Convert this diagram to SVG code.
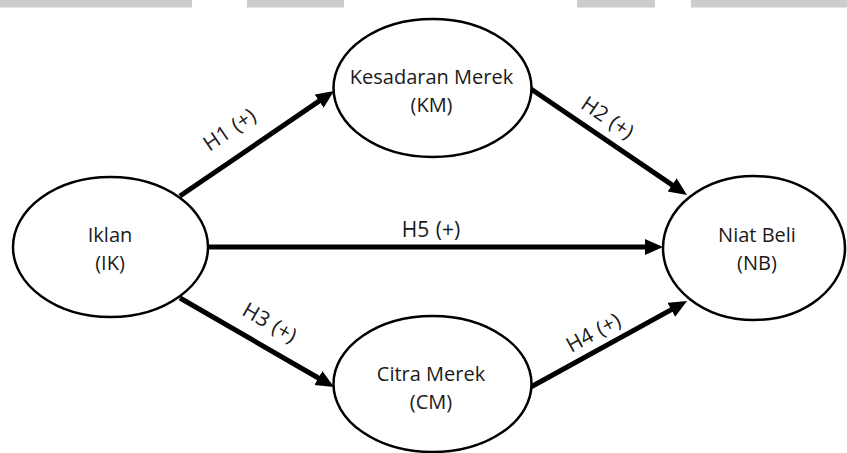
<svg xmlns="http://www.w3.org/2000/svg" width="847" height="453" viewBox="0 0 847 453">
  <style>
    .node ellipse { fill: #ffffff; stroke: #000000; stroke-width: 2.5; }
    .node text { font-family: "Open Sans", "Liberation Sans", sans-serif; font-size: 20px; fill: #1a1a1a; text-anchor: middle; }
    .edge { stroke: #000000; stroke-width: 5; fill: none; marker-end: url(#head); }
    .lbl { font-family: "Open Sans", "Liberation Sans", sans-serif; font-size: 21px; word-spacing: 1px; fill: #1a1a1a; text-anchor: middle; dominant-baseline: central; }
    .bar { fill: #cccccc; }
  </style>
  <defs>
    <marker id="head" markerUnits="userSpaceOnUse" markerWidth="20" markerHeight="18" refX="11" refY="8" orient="auto">
      <path d="M0,0 L18,8 L0,16 z" fill="#000000"/>
    </marker>
  </defs>

  <rect width="847" height="453" fill="#ffffff"/>

  <!-- strip along the top edge -->
  <g id="top-strip">
    <rect class="bar" x="0" y="0" width="192" height="7.5"/>
    <rect class="bar" x="247" y="0" width="97" height="7.5"/>
    <rect class="bar" x="577" y="0" width="78" height="7.5"/>
    <rect class="bar" x="691" y="0" width="156" height="7.5"/>
  </g>

  <!-- connectors -->
  <g id="connectors">
    <line class="edge" x1="180" y1="196" x2="328.2" y2="94.9"/>
    <line class="edge" x1="531" y1="89" x2="681.2" y2="191.1"/>
    <line class="edge" x1="180" y1="298" x2="327.9" y2="383.5"/>
    <line class="edge" x1="529" y1="388" x2="680.9" y2="304.4"/>
    <line class="edge" x1="208" y1="247" x2="656" y2="247"/>
    <text class="lbl" transform="translate(229,129) rotate(-34.3)">H1 (+)</text>
    <text class="lbl" transform="translate(608,117) rotate(34.2)">H2 (+)</text>
    <text class="lbl" transform="translate(270,322) rotate(30)">H3 (+)</text>
    <text class="lbl" transform="translate(593,332) rotate(-28.8)">H4 (+)</text>
    <text class="lbl" x="431" y="229">H5 (+)</text>
  </g>

  <g id="node-ik" class="node">
    <ellipse cx="110.5" cy="247" rx="97.5" ry="70"/>
    <text x="110" y="242">Iklan</text>
    <text x="110" y="270">(IK)</text>
  </g>

  <g id="node-km" class="node">
    <ellipse cx="432.5" cy="88" rx="99" ry="69"/>
    <text x="431.5" y="84">Kesadaran Merek</text>
    <text x="431.5" y="112">(KM)</text>
  </g>

  <g id="node-cm" class="node">
    <ellipse cx="432.5" cy="384" rx="99" ry="68"/>
    <text x="431" y="381">Citra Merek</text>
    <text x="431" y="409">(CM)</text>
  </g>

  <g id="node-nb" class="node">
    <ellipse cx="754" cy="248" rx="91" ry="72"/>
    <text x="757" y="242">Niat Beli</text>
    <text x="757" y="270">(NB)</text>
  </g>
</svg>
